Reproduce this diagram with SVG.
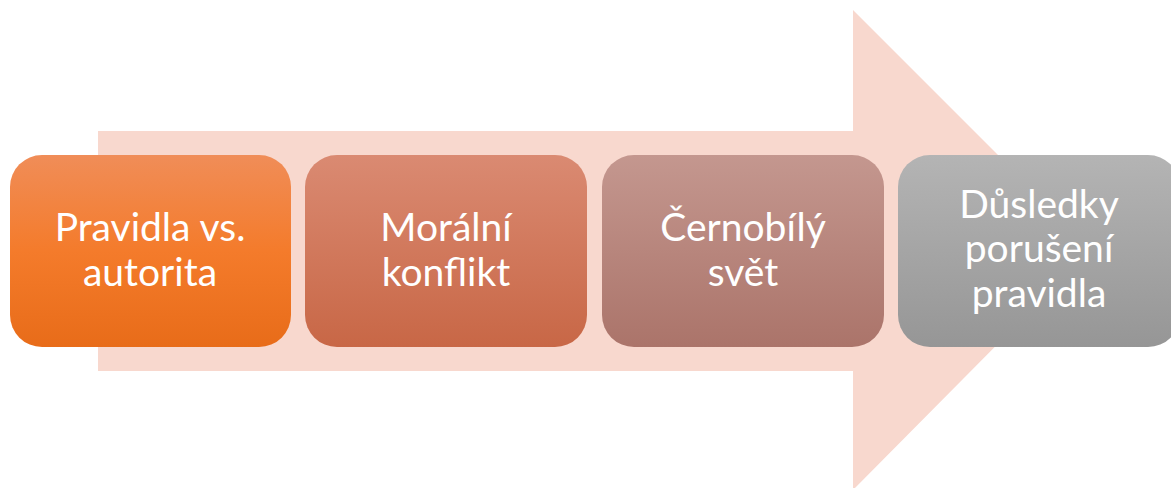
<svg xmlns="http://www.w3.org/2000/svg" width="1171" height="488" viewBox="0 0 1171 488">
<defs>
<linearGradient id="g1" x1="0" y1="0" x2="0" y2="1"><stop offset="0" stop-color="#F08D58"/><stop offset="0.5" stop-color="#F47B2B"/><stop offset="1" stop-color="#E86C19"/></linearGradient>
<linearGradient id="g2" x1="0" y1="0" x2="0" y2="1"><stop offset="0" stop-color="#DA8A72"/><stop offset="1" stop-color="#C86746"/></linearGradient>
<linearGradient id="g3" x1="0" y1="0" x2="0" y2="1"><stop offset="0" stop-color="#C4978F"/><stop offset="1" stop-color="#AB746A"/></linearGradient>
<linearGradient id="g4" x1="0" y1="0" x2="0" y2="1"><stop offset="0" stop-color="#B4B4B4"/><stop offset="1" stop-color="#969696"/></linearGradient>
</defs>
<style>
.t{font-family:Lato,"Open Sans","Liberation Sans",sans-serif;font-size:39px;fill:#FFFFFF;text-anchor:middle}
</style>
<rect width="1171" height="488" fill="#FFFFFF"/>
<g id="arrow">
<polygon points="98,131 853,131 853,10 1092,249 853,490 853,371 98,371" fill="#F8D8CE"/>
</g>
<g id="connectors"></g>
<g id="n1"><rect x="10" y="155" width="281" height="192" rx="32" fill="url(#g1)"/>
<text class="t" x="150" y="241">Pravidla vs.</text><text class="t" x="150" y="286">autorita</text></g>
<g id="n2"><rect x="305" y="155" width="282" height="192" rx="32" fill="url(#g2)"/>
<text class="t" x="446" y="241">Morální</text><text class="t" x="446" y="286">konflikt</text></g>
<g id="n3"><rect x="602" y="155" width="282" height="192" rx="32" fill="url(#g3)"/>
<text class="t" x="743" y="241">Černobílý</text><text class="t" x="743" y="286">svět</text></g>
<g id="n4"><rect x="898" y="155" width="282" height="192" rx="32" fill="url(#g4)"/>
<text class="t" x="1039" y="218">Důsledky</text><text class="t" x="1039" y="262">porušení</text><text class="t" x="1039" y="307">pravidla</text></g>
</svg>
